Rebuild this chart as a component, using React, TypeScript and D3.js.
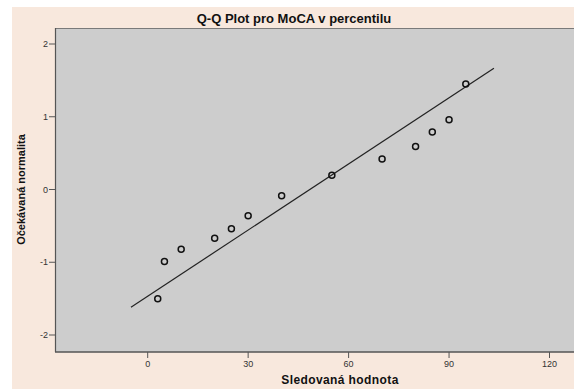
import React from "react";
import * as d3 from "d3";

const observed = [3, 5, 10, 20, 25, 30, 40, 55, 70, 80, 85, 90, 95];
const expected = [-1.5, -0.99, -0.82, -0.67, -0.54, -0.36, -0.085, 0.195, 0.42, 0.59, 0.79, 0.96, 1.45];
const xTicks = [0, 30, 60, 90, 120];
const yTicks = [-2, -1, 0, 1, 2];
const lineMean = 48.4;
const lineSd = 33.0;
const lineRange = [-5, 103.4];
const title = "Q-Q Plot pro MoCA v percentilu";
const xLabel = "Sledovaná hodnota";
const yLabel = "Očekávaná normalita";

export default function App() {
  const W = 578, H = 390;
  const left = 55, right = 574, top = 28, bottom = 352;
  const x = d3.scaleLinear().domain([0, 120]).range([147.7, 549.5]);
  const y = d3.scaleLinear().domain([-2, 2]).range([335, 44]);
  const lineGen = d3.line<number>().x((d) => x(d)).y((d) => y((d - lineMean) / lineSd));
  const font = "'Liberation Sans', Arial, sans-serif";
  return (
    <svg width={W} height={H} style={{ position: "absolute", left: 0, top: 0, background: "#fff" }}>
      <rect x={12} y={7} width={562} height={382} fill="#f8e8dd" />
      <rect x={left} y={top} width={right - left} height={bottom - top} fill="#cdcdcd" />
      <line x1={left} x2={right} y1={top + 0.5} y2={top + 0.5} stroke="#7a7a7a" strokeWidth={1} />
      <line x1={left + 0.5} x2={left + 0.5} y1={top} y2={bottom} stroke="#555" strokeWidth={1.2} />
      <line x1={left} x2={right} y1={bottom} y2={bottom} stroke="#555" strokeWidth={1.5} />
      <text x={294} y={23} textAnchor="middle" fontFamily={font} fontWeight="bold" fontSize={13} fill="#111">{title}</text>
      {yTicks.map((t) => (
        <g key={"y" + t}>
          <line x1={left - 6} x2={left} y1={y(t)} y2={y(t)} stroke="#555" strokeWidth={1} />
          <text x={left - 7} y={y(t) + 3} textAnchor="end" fontFamily={font} fontSize={9} fill="#333">{t}</text>
        </g>
      ))}
      {xTicks.map((t) => (
        <g key={"x" + t}>
          <line x1={x(t)} x2={x(t)} y1={bottom} y2={bottom + 6} stroke="#555" strokeWidth={1} />
          <text x={x(t)} y={bottom + 15} textAnchor="middle" fontFamily={font} fontSize={9} fill="#333">{t}</text>
        </g>
      ))}
      <text x={340} y={384} textAnchor="middle" fontFamily={font} fontWeight="bold" fontSize={12} fill="#111" letterSpacing={0.4}>{xLabel}</text>
      <text transform={`translate(25,${y(0)}) rotate(-90)`} textAnchor="middle" fontFamily={font} fontWeight="bold" fontSize={11} fill="#111">{yLabel}</text>
      <path d={lineGen(lineRange) || ""} fill="none" stroke="#222" strokeWidth={1.2} />
      {observed.map((v, i) => (
        <circle key={i} cx={x(v)} cy={y(expected[i])} r={3} fill="none" stroke="#111" strokeWidth={1.5} />
      ))}
    </svg>
  );
}
